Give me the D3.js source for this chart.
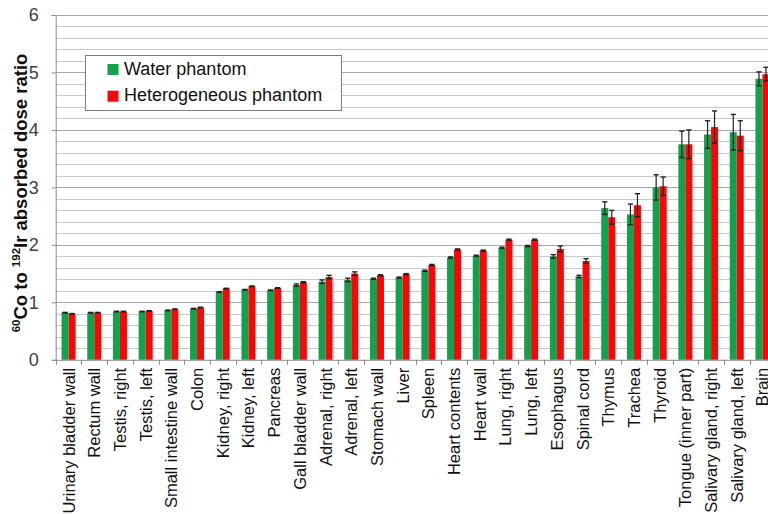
<!DOCTYPE html>
<html>
<head>
<meta charset="utf-8">
<script src="https://cdn.jsdelivr.net/npm/d3@7"></script>
<style>
  html, body { margin: 0; padding: 0; background: #fff; }
  svg { display: block; }
  text { font-family: "Liberation Sans", Arial, sans-serif; }
</style>
</head>
<body>
<svg id="chart" width="768" height="514"></svg>
<script>
// Organ names along the x axis
const categories = [
  "Urinary bladder wall", "Rectum wall", "Testis, right", "Testis, left",
  "Small intestine wall", "Colon", "Kidney, right", "Kidney, left", "Pancreas",
  "Gall bladder wall", "Adrenal, right", "Adrenal, left", "Stomach wall", "Liver",
  "Spleen", "Heart contents", "Heart wall", "Lung, right", "Lung, left",
  "Esophagus", "Spinal cord", "Thymus", "Trachea", "Thyroid",
  "Tongue (inner part)", "Salivary gland, right", "Salivary gland, left", "Brain"
];

const seriesNames = ["Water phantom", "Heterogeneous phantom"];

// 60Co / 192Ir absorbed dose ratios
const waterValues = [
  0.82, 0.82, 0.84, 0.84, 0.86, 0.89, 1.18, 1.22, 1.21, 1.30, 1.36, 1.39, 1.41, 1.43,
  1.55, 1.78, 1.81, 1.95, 1.98, 1.80, 1.45, 2.64, 2.53, 3.00, 3.75, 3.92, 3.96, 4.89
];
const heteroValues = [
  0.80, 0.82, 0.84, 0.85, 0.88, 0.91, 1.24, 1.28, 1.25, 1.35, 1.44, 1.50, 1.47, 1.49,
  1.65, 1.92, 1.90, 2.09, 2.09, 1.93, 1.72, 2.48, 2.69, 3.02, 3.75, 4.05, 3.90, 4.97
];

// Uncertainties (error bar half-lengths)
const waterErrors = [
  0.005, 0.005, 0.005, 0.005, 0.005, 0.005, 0.005, 0.005, 0.005, 0.02, 0.03, 0.03, 0.01, 0.01,
  0.01, 0.01, 0.01, 0.01, 0.01, 0.03, 0.02, 0.11, 0.18, 0.22, 0.23, 0.24, 0.31, 0.12
];
const heteroErrors = [
  0.005, 0.005, 0.005, 0.005, 0.005, 0.005, 0.005, 0.005, 0.005, 0.01, 0.03, 0.03, 0.01, 0.01,
  0.01, 0.01, 0.01, 0.01, 0.01, 0.05, 0.04, 0.12, 0.20, 0.16, 0.25, 0.28, 0.26, 0.12
];

const yTicks = [0, 1, 2, 3, 4, 5, 6];

const colors = { "Water phantom": "#12a24c", "Heterogeneous phantom": "#f70808" };

const rows = categories.map((c, i) => ({
  name: c,
  values: [
    { series: seriesNames[0], value: waterValues[i], err: waterErrors[i] },
    { series: seriesNames[1], value: heteroValues[i], err: heteroErrors[i] }
  ]
}));

const svg = d3.select("#chart");
const left = 55.7, bandW = 25.7;
const x0 = d3.scaleBand().domain(categories).range([left, left + bandW * categories.length]);
const x1 = d3.scaleBand().domain(seriesNames).range([0, x0.bandwidth()]).paddingOuter(0.836);
const y = d3.scaleLinear().domain([0, 6]).range([359.8, 15]);

// horizontal gridlines every 0.2
const gridVals = d3.range(1, 31).map(k => k / 5);
svg.append("g").selectAll("line").data(gridVals).join("line")
  .attr("x1", left).attr("x2", 768)
  .attr("y1", d => Math.round(y(d)) + 0.5).attr("y2", d => Math.round(y(d)) + 0.5)
  .attr("stroke", d => Math.abs(d - Math.round(d)) < 1e-6 ? "#a8a8a8" : "#c9c9c9")
  .attr("stroke-width", 1);

// bars
const groups = svg.append("g").selectAll("g").data(rows).join("g")
  .attr("transform", d => `translate(${x0(d.name)},0)`);

groups.selectAll("rect").data(d => d.values).join("rect")
  .attr("x", d => x1(d.series))
  .attr("width", x1.bandwidth())
  .attr("y", d => y(d.value))
  .attr("height", d => y(0) - y(d.value))
  .attr("fill", d => colors[d.series]);

// error bars
const eb = groups.selectAll("g.err").data(d => d.values).join("g").attr("class", "err");
const cx = d => x1(d.series) + x1.bandwidth() / 2;
eb.append("line")
  .attr("x1", cx).attr("x2", cx)
  .attr("y1", d => y(d.value + d.err)).attr("y2", d => y(d.value - d.err))
  .attr("stroke", "#222").attr("stroke-width", 1.2);
eb.append("line")
  .attr("x1", d => cx(d) - 2.6).attr("x2", d => cx(d) + 2.6)
  .attr("y1", d => y(d.value + d.err)).attr("y2", d => y(d.value + d.err))
  .attr("stroke", "#222").attr("stroke-width", 1.4);
eb.append("line")
  .attr("x1", d => cx(d) - 2.6).attr("x2", d => cx(d) + 2.6)
  .attr("y1", d => y(d.value - d.err)).attr("y2", d => y(d.value - d.err))
  .attr("stroke", "#222").attr("stroke-width", 1.4);

// y axis
const yAxis = svg.append("g")
  .attr("transform", `translate(${left},0)`)
  .call(d3.axisLeft(y).tickValues(yTicks).tickFormat(d3.format("d")).tickSize(4).tickPadding(13));
yAxis.select(".domain").attr("stroke", "#8c8c8c");
yAxis.selectAll(".tick line").attr("stroke", "#8c8c8c");
yAxis.selectAll(".tick text").attr("font-size", 18).attr("fill", "#404040")
  .attr("font-family", "Liberation Sans, Arial, sans-serif");

// x axis
const xAxis = svg.append("g")
  .attr("transform", `translate(0,${y(0)})`)
  .call(d3.axisBottom(x0).tickSize(0).tickPadding(0));
xAxis.select(".domain").attr("stroke", "#8c8c8c");
xAxis.selectAll(".tick text")
  .attr("font-size", 16.5).attr("fill", "#111")
  .attr("font-family", "Liberation Sans, Arial, sans-serif")
  .attr("text-anchor", "end")
  .attr("transform", "translate(0,8) rotate(-90)")
  .attr("x", 0).attr("y", 0).attr("dy", "0.36em");

// category separator ticks
svg.append("g").selectAll("line").data(d3.range(categories.length + 1)).join("line")
  .attr("x1", i => Math.round(left + i * bandW) + 0.5)
  .attr("x2", i => Math.round(left + i * bandW) + 0.5)
  .attr("y1", y(0)).attr("y2", y(0) + 5)
  .attr("stroke", "#8c8c8c");

// y axis title with superscripted isotope masses
const title = svg.append("text")
  .attr("transform", "translate(27,193) rotate(-90)")
  .attr("text-anchor", "middle")
  .attr("font-weight", "bold").attr("font-size", 18.5).attr("fill", "#111");
title.append("tspan").attr("font-size", 11.5).attr("dy", -7).text("60");
title.append("tspan").attr("dy", 7).text("Co to ");
title.append("tspan").attr("font-size", 11.5).attr("dy", -7).text("192");
title.append("tspan").attr("dy", 7).text("Ir absorbed dose ratio");

// legend
const legend = svg.append("g");
legend.append("rect")
  .attr("x", 85.5).attr("y", 55.5).attr("width", 256).attr("height", 55)
  .attr("fill", "#fff").attr("stroke", "#7f7f7f");
seriesNames.forEach((s, i) => {
  legend.append("rect")
    .attr("x", 107.5).attr("y", 64 + i * 26.7).attr("width", 11).attr("height", 11)
    .attr("fill", colors[s]);
  legend.append("text")
    .attr("x", 124).attr("y", 74.5 + i * 26.7)
    .attr("font-size", 18).attr("fill", "#111").text(s);
});
</script>
</body>
</html>
